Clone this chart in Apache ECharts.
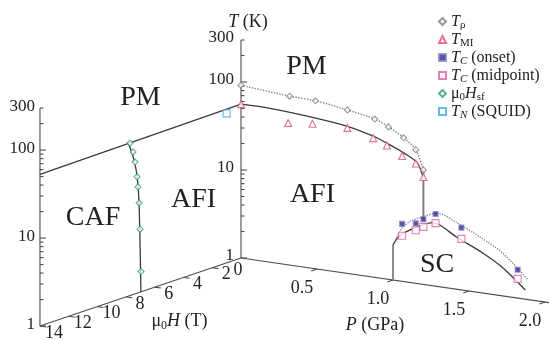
<!DOCTYPE html>
<html>
<head>
<meta charset="utf-8">
<script src="https://cdn.jsdelivr.net/npm/echarts@6/dist/echarts.min.js"></script>
<style>
html, body { margin: 0; padding: 0; background: #fff; }
#chart { width: 549px; height: 340px; }
</style>
</head>
<body>
<div id="chart"></div>
<script>
var SERIF = '"Liberation Serif", "Times New Roman", serif';

// ticks of the two log T axes and the two oblique axes
var tMajor = [1, 10, 100];
var tMinor = [2, 3, 4, 5, 6, 7, 8, 9, 20, 30, 40, 50, 60, 70, 80, 90, 200, 300];
var tLabelVals = [1, 10, 100, 300];
var tLabelText = ['1', '10', '100', '300'];
var pTicks = [0.5, 1.0, 1.5, 2.0];
var pTickText = ['0.5', '1.0', '1.5', '2.0'];
var hTicks = [2, 4, 6, 8, 10, 12, 14];
var hTickText = ['2', '4', '6', '8', '10', '12', '14'];
var hMax = 14, tMax = 300, pEnd = 2.03;

// P-T plane (H = 0)
var rhoP = [0, 0.32, 0.49, 0.70, 0.88, 0.97, 1.07, 1.15, 1.20];
var rhoT = [92, 83, 81, 72, 63, 54, 43, 33, 20];
var miP = [0, 0.31, 0.47, 0.70, 0.87, 0.96, 1.06, 1.15, 1.20];
var miT = [56, 41, 44, 45, 38, 33, 26.5, 23, 16.6];
var miFitP = [0, 0.19, 0.47, 0.70, 0.87, 0.96, 1.07, 1.16, 1.20];
var miFitT = [56, 56, 52, 47, 40, 35, 29, 23.4, 16];
var onsetP = [1.06, 1.15, 1.20, 1.28, 1.45, 1.82];
var onsetT = [4.5, 4.8, 5.5, 6.6, 5.1, 2.1];
var midP = [1.06, 1.15, 1.20, 1.28, 1.45, 1.82];
var midT = [3.3, 4.0, 4.5, 5.2, 3.8, 1.65];
var domeP = [1.0, 1.03, 1.07, 1.16, 1.26, 1.31, 1.42, 1.59, 1.72, 1.87];
var domeT = [2.5, 3.05, 3.55, 4.4, 5.2, 5.0, 3.9, 2.85, 2.1, 1.27];
var domeOnP = [1.01, 1.05, 1.11, 1.21, 1.29, 1.42, 1.57, 1.72, 1.89];
var domeOnT = [2.7, 3.8, 4.9, 6.0, 6.8, 5.7, 4.3, 3.07, 1.67];
var stepAP = [1.0, 1.0], stepAT = [1, 2.5];
var stepBP = [1.2, 1.2], stepBT = [20, 5.5];

// H-T plane (P = 0)
var pmH = [14, 0], pmT = [53, 56];
var sfH = [7.73, 7.52, 7.38, 7.24, 7.17, 7.10, 7.03, 6.96];
var sfT = [54, 41.7, 31.5, 21, 16, 10.4, 5.2, 1.7];
var sfLineH = [7.85, 7.4, 7.15, 7.05, 6.97];
var sfLineT = [55, 31, 15, 5, 1];
var squidH = [1.0], squidT = [50];

var regionText = ['PM', 'PM', 'AFI', 'AFI', 'CAF', 'SC'];

// oblique projection: P runs right-down, H runs left-down, log T runs up
var ORIGIN = [241, 258];
var P_STEP = [152, 22];
var H_STEP = [-14.36, 4.86];
var DECADE = 88;
function proj(p, h, t) {
  var lt = Math.log(t) / Math.LN10;
  return [ORIGIN[0] + p * P_STEP[0] + h * H_STEP[0],
          ORIGIN[1] + p * P_STEP[1] + h * H_STEP[1] - lt * DECADE];
}
function onPT(ps, ts) { return ps.map(function (p, i) { return proj(p, 0, ts[i]); }); }
function onHT(hs, ts) { return hs.map(function (h, i) { return proj(0, h, ts[i]); }); }

// where the phase names sit, as [P, H, T]
var regionAt = [[0.43, 0, 190], [0, 7.0, 160], [0, 3.3, 7], [0.47, 0, 6.8], [0, 10.3, 10.6], [1.29, 0, 1.75]];

var AXIS = '#4d4d4d';
var INK = '#222';

function renderFrame(params, api) {
  var kids = [];
  function at(p, h, t) { return api.coord(proj(p, h, t)); }
  function seg(a, b, w) {
    kids.push({ type: 'line', shape: { x1: a[0], y1: a[1], x2: b[0], y2: b[1] },
      style: { stroke: AXIS, lineWidth: w || 1.1 } });
  }
  function text(pos, dx, dy, str, size, align, rich) {
    kids.push({ type: 'text', x: pos[0] + dx, y: pos[1] + dy,
      style: { text: str, fill: INK, font: size + 'px ' + SERIF, align: align || 'center',
        verticalAlign: 'middle', rich: rich } });
  }
  // the two vertical temperature axes
  [0, hMax].forEach(function (h) {
    seg(at(0, h, 1), at(0, h, tMax));
    tMajor.forEach(function (t) { var a = at(0, h, t); seg(a, [a[0] + 6, a[1]]); });
    tMinor.forEach(function (t) { var a = at(0, h, t); seg(a, [a[0] + 3.5, a[1]]); });
    tLabelVals.forEach(function (t, i) {
      text(at(0, h, t), h ? -5 : -7, -2, tLabelText[i], 17, 'right');
    });
  });
  // pressure axis
  seg(at(0, 0, 1), at(pEnd, 0, 1));
  pTicks.forEach(function (p, i) {
    seg(at(p, 0, 1), at(p, 0.4, 1));
    text(at(p, 0, 1), -15, 19, pTickText[i], 18);
  });
  // field axis
  seg(at(0, 0, 1), at(0, hMax, 1));
  hTicks.forEach(function (h, i) {
    seg(at(0, h, 1), at(0.04, h, 1));
    text(at(0, h, 1), 14, 7, hTickText[i], 18);
  });
  text(at(0, 0, 1), -3, 12, '0', 18);
  var rich = {
    it: { fontFamily: SERIF, fontSize: 18, fontStyle: 'italic', fill: INK },
    n: { fontFamily: SERIF, fontSize: 18, fill: INK },
    sub: { fontFamily: SERIF, fontSize: 12, fill: INK, padding: [9, 0, 0, 0] }
  };
  text(at(0, 0, tMax), 7, -18, '{it|T}{n| (K)}', 18, 'center', rich);
  text(at(1.0, 0, 1), -18, 45, '{it|P}{n| (GPa)}', 18, 'center', rich);
  text(at(0, 7, 1), 39, 29, '{n|μ}{sub|0}{it|H}{n| (T)}', 18, 'center', rich);
  // phase names
  regionAt.forEach(function (r, i) {
    text(at(r[0], r[1], r[2]), 0, 0, regionText[i], 28);
  });
  return { type: 'group', children: kids };
}

function curve(name, pts, color, type, width, smooth) {
  return { name: name, type: 'line', data: pts, symbol: 'none', smooth: smooth || 0,
    z: 3, silent: true, lineStyle: { color: color, type: type || 'solid', width: width || 1.3 } };
}
function marks(name, pts, symbol, size, color, fill) {
  return { name: name, type: 'scatter', data: pts, symbol: symbol, symbolSize: size, z: 5,
    itemStyle: { color: fill || '#fff', borderColor: color, borderWidth: 1.1 } };
}

var legendNames = ['Tρ', 'TMI', 'TC (onset)', 'TC (midpoint)', 'μ0Hsf', 'TN (SQUID)'];
var legendRich = {
  'Tρ': '{it|T}{sub|ρ}',
  'TMI': '{it|T}{sub|MI}',
  'TC (onset)': '{it|T}{subi|C}{n| (onset)}',
  'TC (midpoint)': '{it|T}{subi|C}{n| (midpoint)}',
  'μ0Hsf': '{n|μ}{sub|0}{it|H}{sub|sf}',
  'TN (SQUID)': '{it|T}{subi|N}{n| (SQUID)}'
};

var chart = echarts.init(document.getElementById('chart'));
chart.setOption({
  animation: false,
  backgroundColor: '#fff',
  grid: { left: 0, right: 0, top: 0, bottom: 0 },
  xAxis: { type: 'value', min: 0, max: 549, show: false },
  yAxis: { type: 'value', min: 0, max: 340, inverse: true, show: false },
  legend: {
    data: legendNames,
    orient: 'vertical',
    left: 433, top: 7,
    itemWidth: 7, itemHeight: 7, itemGap: -1,
    formatter: function (name) { return legendRich[name]; },
    textStyle: {
      fontFamily: SERIF, fontSize: 16, color: INK, lineHeight: 18,
      rich: {
        it: { fontFamily: SERIF, fontSize: 16, fontStyle: 'italic', lineHeight: 18, color: INK },
        n: { fontFamily: SERIF, fontSize: 16, lineHeight: 18, color: INK },
        sub: { fontFamily: SERIF, fontSize: 11, lineHeight: 10, padding: [8, 0, 0, 0], color: INK },
        subi: { fontFamily: SERIF, fontSize: 11, fontStyle: 'italic', lineHeight: 10, padding: [8, 0, 0, 0], color: INK }
      }
    }
  },
  series: [
    { name: 'frame', type: 'custom', data: [0], renderItem: renderFrame, z: 1, silent: true },
    curve('rho line', onPT(rhoP, rhoT), '#808080', 'dotted', 1.4, 0.3),
    curve('mi line', onPT(miFitP, miFitT), '#3a3a3a', 'solid', 1.3, 0.3),
    curve('step a', onPT(stepAP, stepAT), '#808080', 'solid', 1.8),
    curve('step b', onPT(stepBP, stepBT), '#808080', 'solid', 2),
    curve('dome', onPT(domeP, domeT), '#3a3a3a', 'solid', 1.3, 0.3),
    curve('dome onset', onPT(domeOnP, domeOnT), '#808080', 'dotted', 1.3, 0.3),
    curve('pm line', onHT(pmH, pmT), '#3a3a3a', 'solid', 1.3),
    curve('sf line', onHT(sfLineH, sfLineT), '#3a3a3a', 'solid', 1.3, 0.3),
    marks('Tρ', onPT(rhoP, rhoT), 'diamond', 6, '#808080'),
    marks('TMI', onPT(miP, miT), 'triangle', 7, '#e0506a'),
    marks('TC (onset)', onPT(onsetP, onsetT), 'rect', 5, '#8a8ad0', '#2c2c86'),
    marks('TC (midpoint)', onPT(midP, midT), 'rect', 7, '#e060a8'),
    marks('μ0Hsf', onHT(sfH, sfT), 'diamond', 6, '#30a070'),
    marks('TN (SQUID)', onHT(squidH, squidT), 'rect', 7, '#40a8e0')
  ]
});
</script>
</body>
</html>
